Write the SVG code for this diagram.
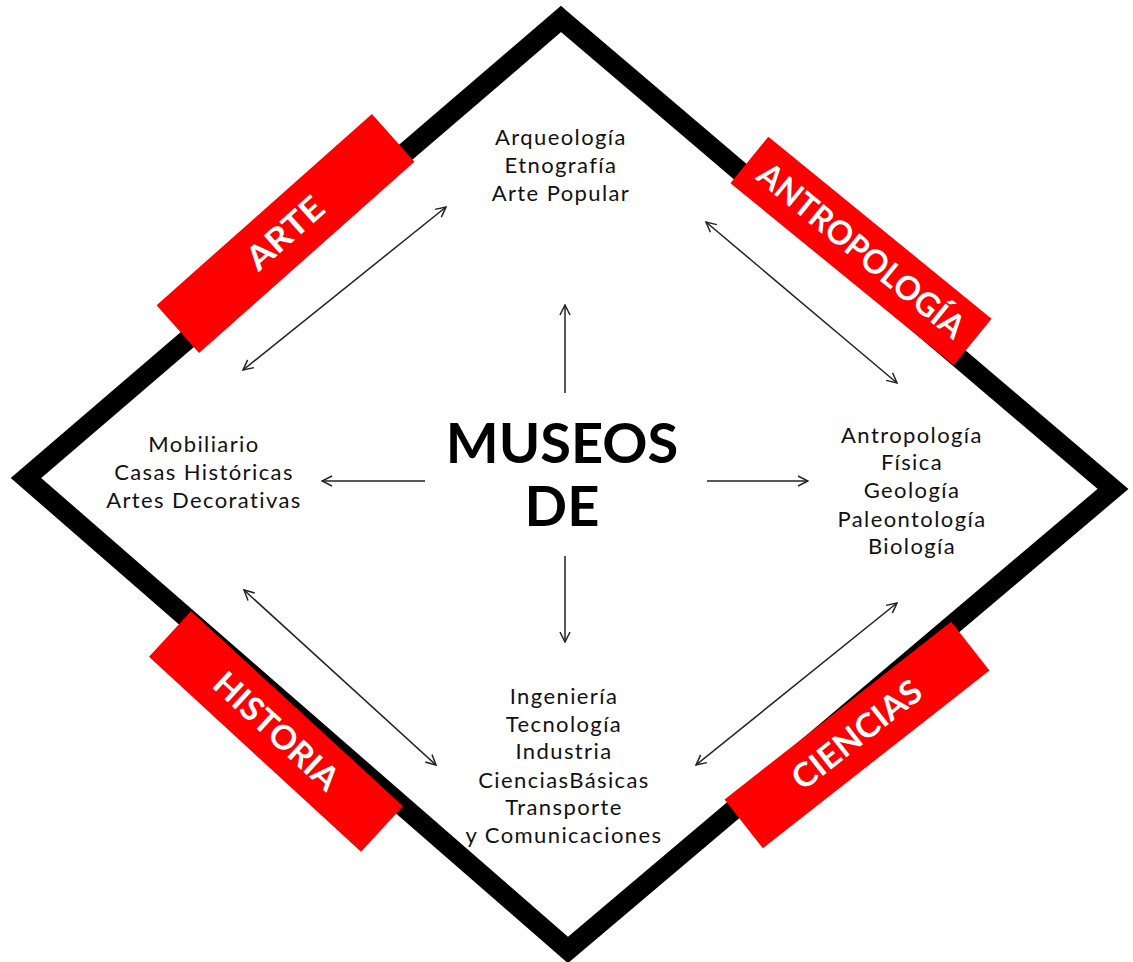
<svg xmlns="http://www.w3.org/2000/svg" width="1133" height="962" viewBox="0 0 1133 962">
<defs>
<style>
.frame{fill:none;stroke:#000;stroke-width:20;stroke-linejoin:miter}
.band{fill:#ff0000}
.bandtxt{fill:#fff;font-family:Lato,"Open Sans",sans-serif;font-weight:bold;font-size:33px;text-anchor:middle}
.item{fill:#111;font-family:Lato,"Open Sans",sans-serif;font-size:22px;letter-spacing:1.4px;text-anchor:middle}
.title{fill:#000;font-family:Lato,"Open Sans",sans-serif;font-weight:bold;font-size:56px;text-anchor:middle}
.arr{fill:none;stroke:#222;stroke-width:1.5}
</style>
<marker id="ah" viewBox="0 0 12 12" refX="11" refY="6" markerWidth="12" markerHeight="12" markerUnits="userSpaceOnUse" orient="auto-start-reverse">
<path d="M1,1 L11,6 L1,11" fill="none" stroke="#222" stroke-width="1.5"/>
</marker>
</defs>
<rect width="1133" height="962" fill="#fff"/>
<g id="frame">
<polygon class="frame" points="561,19 1113,489 568,950 26,478"/>
</g>
<g id="band-arte" transform="translate(285.5,233.5) rotate(-41.6)">
<rect class="band" x="-144" y="-32" width="288" height="64"/>
<text class="bandtxt" x="0" y="11" textLength="92" lengthAdjust="spacingAndGlyphs">ARTE</text>
</g>
<g id="band-antropologia" transform="translate(861,251) rotate(39.2)">
<rect class="band" x="-144" y="-30" width="288" height="60"/>
<text class="bandtxt" x="0" y="11" textLength="256" lengthAdjust="spacingAndGlyphs">ANTROPOLOGÍA</text>
</g>
<g id="band-historia" transform="translate(276,731.5) rotate(42.6)">
<rect class="band" x="-144" y="-31" width="288" height="62"/>
<text class="bandtxt" x="0" y="11" textLength="157" lengthAdjust="spacingAndGlyphs">HISTORIA</text>
</g>
<g id="band-ciencias" transform="translate(857,735) rotate(-38.1)">
<rect class="band" x="-144" y="-31" width="288" height="62"/>
<text class="bandtxt" x="0" y="11" textLength="155" lengthAdjust="spacingAndGlyphs">CIENCIAS</text>
</g>
<g id="center">
<text class="title" x="562" y="463">MUSEOS</text>
<text class="title" x="562" y="526">DE</text>
</g>
<g id="top-node">
<text class="item" x="561" y="145">Arqueología</text>
<text class="item" x="561" y="173">Etnografía</text>
<text class="item" x="561" y="201">Arte Popular</text>
</g>
<g id="left-node">
<text class="item" x="204" y="452">Mobiliario</text>
<text class="item" x="204" y="480">Casas Históricas</text>
<text class="item" x="204" y="508">Artes Decorativas</text>
</g>
<g id="right-node">
<text class="item" x="912" y="443">Antropología</text>
<text class="item" x="912" y="470">Física</text>
<text class="item" x="912" y="498">Geología</text>
<text class="item" x="912" y="527">Paleontología</text>
<text class="item" x="912" y="554">Biología</text>
</g>
<g id="bottom-node">
<text class="item" x="564" y="704">Ingeniería</text>
<text class="item" x="564" y="732">Tecnología</text>
<text class="item" x="564" y="759">Industria</text>
<text class="item" x="564" y="788">CienciasBásicas</text>
<text class="item" x="564" y="815">Transporte</text>
<text class="item" x="564" y="843">y Comunicaciones</text>
</g>
<g id="connectors">
<line class="arr" x1="565" y1="393" x2="565" y2="305" marker-end="url(#ah)"/>
<line class="arr" x1="565" y1="556" x2="565" y2="642" marker-end="url(#ah)"/>
<line class="arr" x1="425" y1="481" x2="322" y2="481" marker-end="url(#ah)"/>
<line class="arr" x1="707" y1="481" x2="808" y2="481" marker-end="url(#ah)"/>
<line class="arr" x1="243" y1="370" x2="446" y2="207" marker-start="url(#ah)" marker-end="url(#ah)"/>
<line class="arr" x1="706" y1="222" x2="897" y2="383" marker-start="url(#ah)" marker-end="url(#ah)"/>
<line class="arr" x1="244" y1="590" x2="436" y2="765" marker-start="url(#ah)" marker-end="url(#ah)"/>
<line class="arr" x1="897" y1="603" x2="696" y2="765" marker-start="url(#ah)" marker-end="url(#ah)"/>
</g>
</svg>
